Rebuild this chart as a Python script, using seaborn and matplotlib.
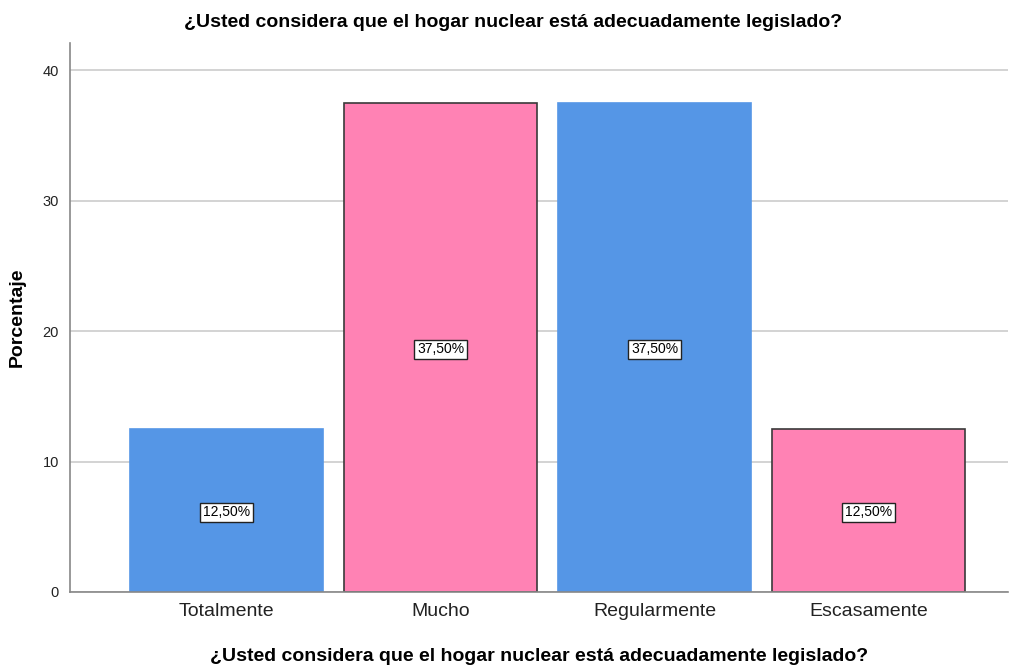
import matplotlib
matplotlib.use("Agg")
import matplotlib.pyplot as plt
import pandas as pd
import seaborn as sns

categories = ["Totalmente", "Mucho", "Regularmente", "Escasamente"]
percentages = [12.5, 37.5, 37.5, 12.5]
labels = ["12,50%", "37,50%", "37,50%", "12,50%"]
bar_colors = ["#5596E6", "#FF82B4", "#5596E6", "#FF82B4"]
edge_colors = ["#5596E6", "#3a3a3a", "#5596E6", "#3a3a3a"]
title_text = "¿Usted considera que el hogar nuclear está adecuadamente legislado?"

sns.set_style("white")
plt.rcParams['font.family'] = ['Liberation Sans', 'DejaVu Sans']

df = pd.DataFrame({"cat": categories, "pct": percentages})

fig = plt.figure(figsize=(10.1, 6.68), dpi=100)
ax = fig.add_axes([0.0693, 0.1138, 0.9287, 0.8218])

sns.barplot(data=df, x="cat", y="pct", hue="cat", palette=bar_colors,
            width=0.9, legend=False, ax=ax, saturation=1, zorder=2)

for bar, ec in zip(ax.patches, edge_colors):
    bar.set_edgecolor(ec)
    bar.set_linewidth(1.2)

for i, (val, txt) in enumerate(zip(percentages, labels)):
    ax.text(i, val / 2 - 0.15, txt, ha="center", va="center", fontsize=10, zorder=4, color="black",
            bbox=dict(boxstyle="square,pad=0.2", facecolor="white", edgecolor="#222222", linewidth=1))

ax.set_xlim(-0.73, 3.65)
ax.set_ylim(0, 42.1)
ax.set_yticks([0, 10, 20, 30, 40])
ax.yaxis.grid(True, color="#cccccc", linewidth=1.2, zorder=0)
ax.set_axisbelow(True)

for side in ["top", "right"]:
    ax.spines[side].set_visible(False)
for side in ["left", "bottom"]:
    ax.spines[side].set_color("#888888")
    ax.spines[side].set_linewidth(1.2)

ax.tick_params(axis="x", labelsize=14, length=0, pad=8, labelcolor="#222222")
ax.tick_params(axis="y", labelsize=10.5, length=0, pad=8, labelcolor="#222222")

ax.set_xlabel(title_text, fontsize=14, fontweight="bold", labelpad=20, color="black")
ax.set_ylabel("Porcentaje", fontsize=14, fontweight="bold", labelpad=12, color="black")
fig.text(0.508, 0.967, title_text, ha="center", va="center", fontsize=14, fontweight="bold", color="black")

plt.savefig("out.png", dpi=100)
